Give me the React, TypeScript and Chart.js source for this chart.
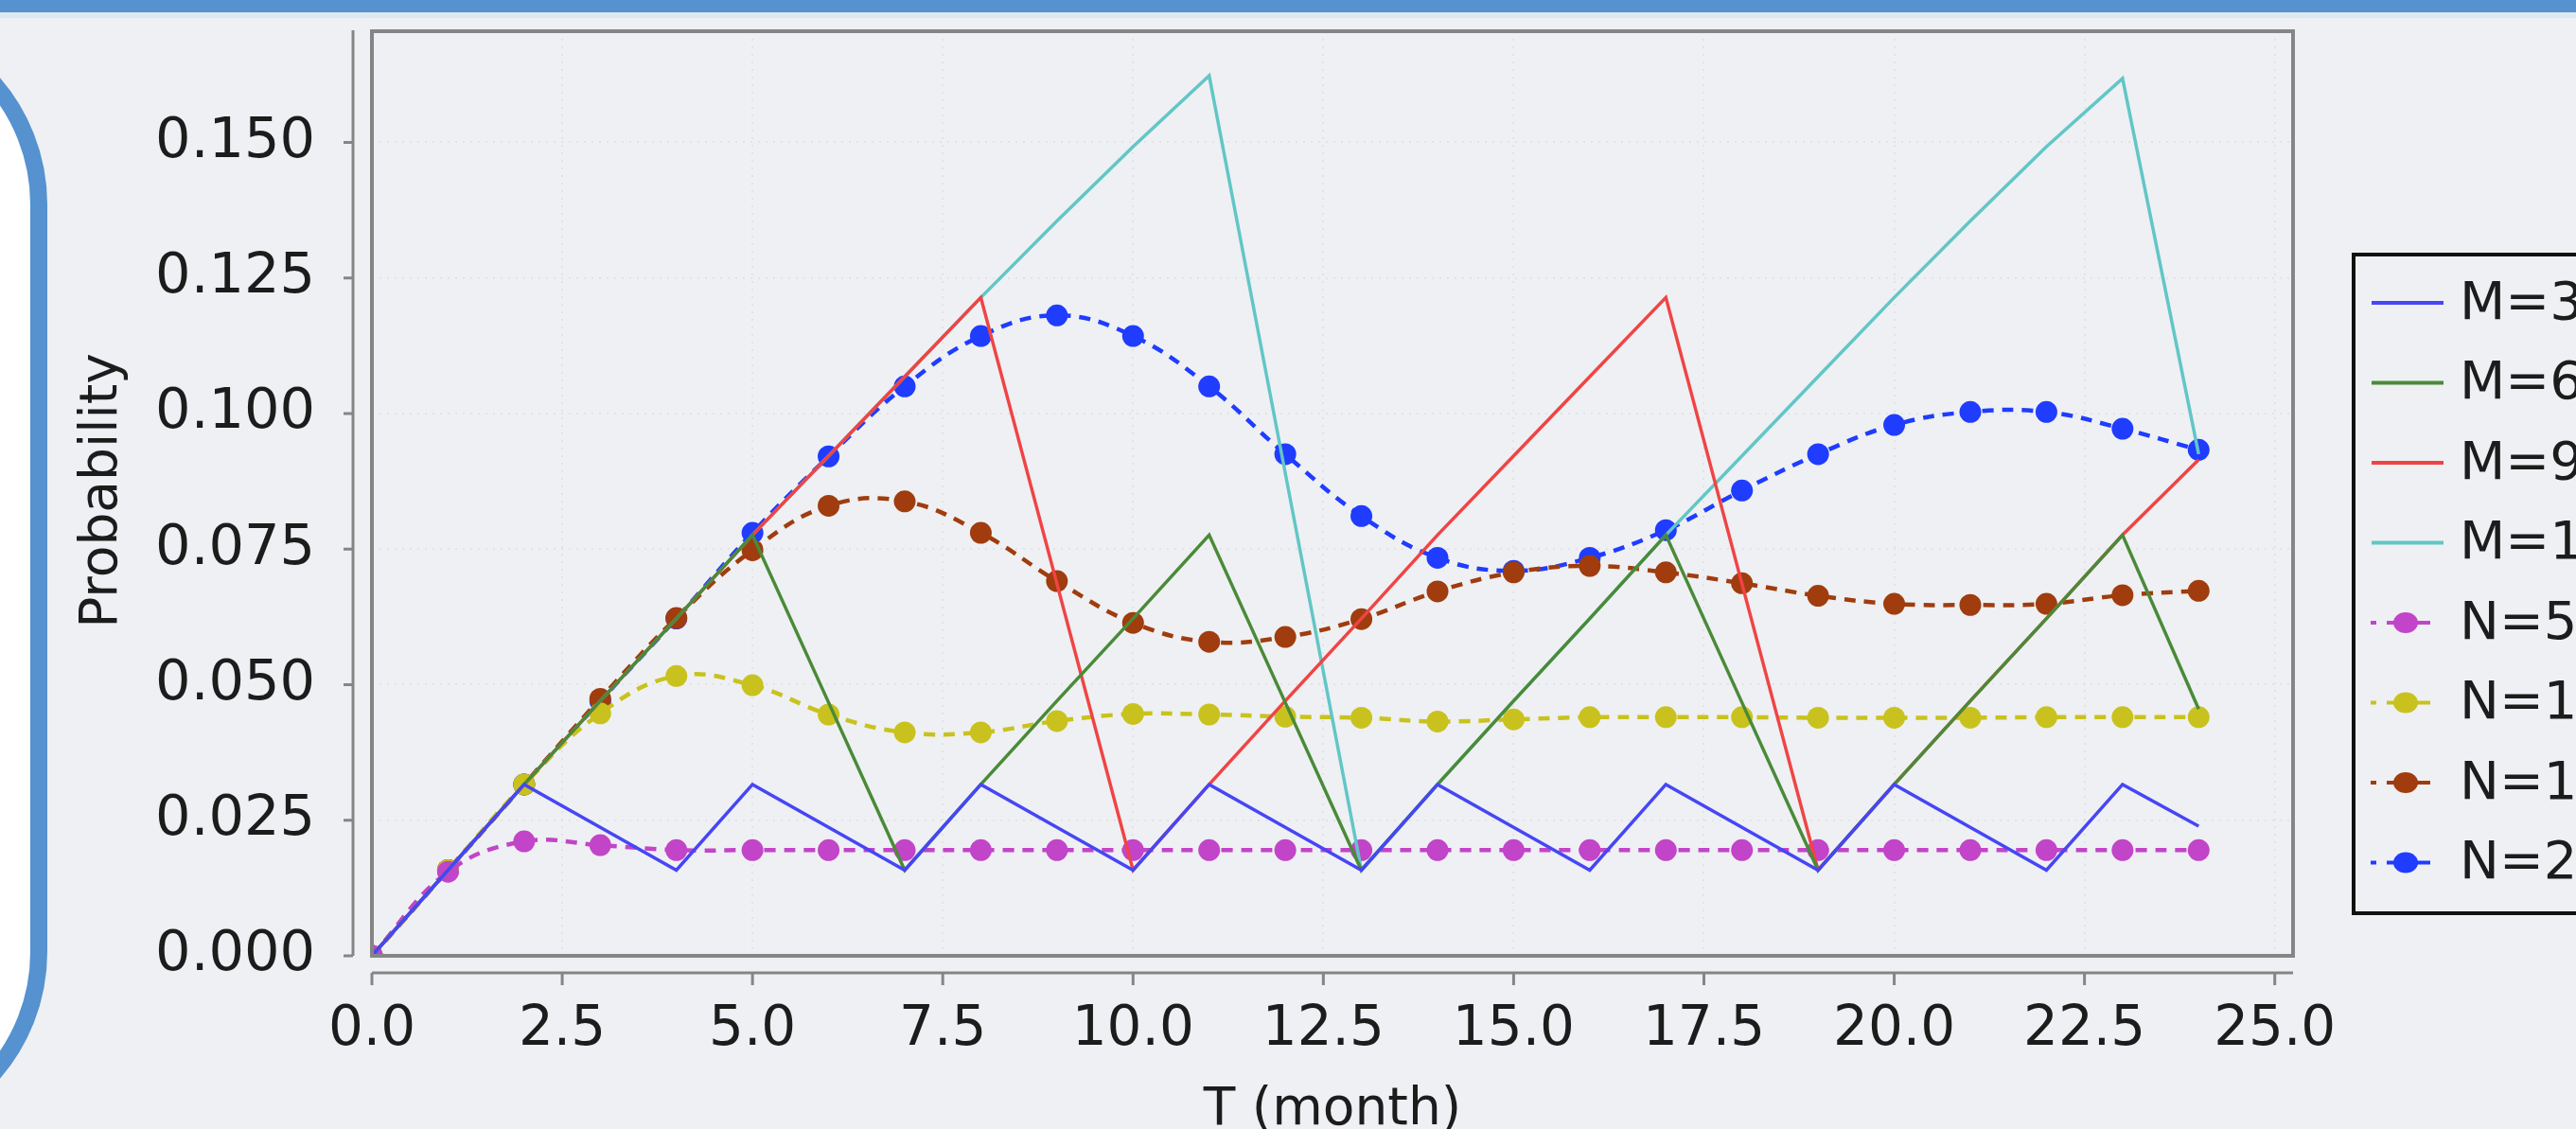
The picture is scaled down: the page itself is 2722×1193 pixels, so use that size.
import React, { useEffect, useRef } from 'react';
import { Chart, registerables } from 'chart.js';

Chart.register(...registerables);

// ---------- data ----------
const months = [0, 1, 2, 3, 4, 5, 6, 7, 8, 9, 10, 11, 12, 13, 14, 15, 16, 17, 18, 19, 20, 21, 22, 23, 24];

const xTickValues = [0, 2.5, 5, 7.5, 10, 12.5, 15, 17.5, 20, 22.5, 25];
const xTickLabels = ['0.0', '2.5', '5.0', '7.5', '10.0', '12.5', '15.0', '17.5', '20.0', '22.5', '25.0'];
const yTickValues = [0, 0.025, 0.05, 0.075, 0.1, 0.125, 0.15];
const yTickLabels = ['0.000', '0.025', '0.050', '0.075', '0.100', '0.125', '0.150'];

const xTitle = 'T (month)';
const yTitle = 'Probability';
const seriesNames = ['M=3', 'M=6', 'M=9', 'M=12', 'N=5', 'N=10', 'N=15', 'N=20'];

const m3 = [0, 0.0158, 0.0316, 0.0237, 0.0158, 0.0316, 0.0237, 0.0158, 0.0316, 0.0237, 0.0158, 0.0316, 0.0237,
  0.0158, 0.0316, 0.0237, 0.0158, 0.0316, 0.0237, 0.0158, 0.0316, 0.0237, 0.0158, 0.0316, 0.0239];
const m6 = [0, 0.0158, 0.0316, 0.047, 0.0622, 0.0776, 0.0467, 0.0158, 0.0316, 0.047, 0.0622, 0.0776, 0.0467,
  0.0158, 0.0316, 0.047, 0.0622, 0.0776, 0.0467, 0.0158, 0.0316, 0.047, 0.0622, 0.0776, 0.0455];
const m9 = [0, 0.0158, 0.0316, 0.047, 0.0622, 0.0776, 0.0922, 0.1068, 0.1214, 0.0686, 0.0158, 0.0316, 0.047,
  0.0622, 0.0776, 0.0922, 0.1068, 0.1214, 0.0686, 0.0158, 0.0316, 0.047, 0.0622, 0.0776, 0.0915];
const m12 = [0, 0.0158, 0.0316, 0.047, 0.0622, 0.0776, 0.0922, 0.1068, 0.1214, 0.1355, 0.1492, 0.1623, 0.089,
  0.0158, 0.0316, 0.047, 0.0622, 0.0776, 0.0922, 0.1068, 0.1214, 0.1355, 0.1492, 0.1618, 0.0925];
const n5 = [0, 0.0155, 0.0211, 0.0204, 0.0195, 0.0195, 0.0195, 0.0195, 0.0195, 0.0195, 0.0195, 0.0195, 0.0195,
  0.0195, 0.0195, 0.0195, 0.0195, 0.0195, 0.0195, 0.0195, 0.0195, 0.0195, 0.0195, 0.0195, 0.0195];
const n10 = [0, 0.0158, 0.0316, 0.0447, 0.0516, 0.0499, 0.0445, 0.0412, 0.0412, 0.0433, 0.0446, 0.0445, 0.0441,
  0.0439, 0.0432, 0.0436, 0.044, 0.044, 0.044, 0.0439, 0.0439, 0.0439, 0.044, 0.044, 0.044];
const n15 = [0, 0.0158, 0.0316, 0.0474, 0.0623, 0.0748, 0.083, 0.0838, 0.078, 0.0691, 0.0614, 0.0579, 0.0588,
  0.0621, 0.0672, 0.0707, 0.0719, 0.0707, 0.0687, 0.0664, 0.0649, 0.0647, 0.0649, 0.0665, 0.0673];
const n20 = [0, 0.0158, 0.0316, 0.047, 0.0622, 0.078, 0.0921, 0.105, 0.1143, 0.1181, 0.1143, 0.105, 0.0925,
  0.0811, 0.0734, 0.071, 0.0734, 0.0785, 0.0858, 0.0925, 0.0979, 0.1003, 0.1003, 0.0972, 0.0933];

const seriesValues = [m3, m6, m9, m12, n5, n10, n15, n20];
const seriesColors = ['#4646f5', '#4a8a38', '#f04444', '#62c6c6', '#c244c8', '#c9c21e', '#a03c0e', '#1f3cff'];
const seriesDashed = [false, false, false, false, true, true, true, true];

// ---------- style ----------
const FONT = '"DejaVu Sans", "Liberation Sans", sans-serif';
const TEXT = '#1c1c1c';
const BG = '#eef0f3';
const FRAME_BLUE = '#5592cf';
const AXIS_GREY = '#858585';

const decorPlugin = {
  id: 'decor',
  beforeDraw(chart: any) {
    const { ctx, width, height } = chart;
    ctx.save();
    ctx.fillStyle = BG;
    ctx.fillRect(0, 0, width, height);
    // top banner
    ctx.fillStyle = '#dde7f2';
    ctx.fillRect(0, 11, width, 8);
    ctx.fillStyle = FRAME_BLUE;
    ctx.fillRect(0, 0, width, 13);
    // left rounded panel
    const x = -400, y = 21, w = 441, h = 1180, r = 195;
    ctx.beginPath();
    ctx.moveTo(x + r, y);
    ctx.lineTo(x + w - r, y);
    ctx.arcTo(x + w, y, x + w, y + r, r);
    ctx.lineTo(x + w, y + h - r);
    ctx.arcTo(x + w, y + h, x + w - r, y + h, r);
    ctx.lineTo(x + r, y + h);
    ctx.lineTo(x, y + h);
    ctx.lineTo(x, y);
    ctx.closePath();
    ctx.fillStyle = '#ffffff';
    ctx.fill();
    ctx.lineWidth = 18;
    ctx.strokeStyle = FRAME_BLUE;
    ctx.stroke();
    ctx.restore();
  },
  afterDatasetsDraw(chart: any) {
    const { ctx, chartArea: a } = chart;
    ctx.save();
    ctx.strokeStyle = AXIS_GREY;
    ctx.lineWidth = 4;
    ctx.strokeRect(a.left, a.top, a.right - a.left, a.bottom - a.top);
    ctx.restore();
  },
  afterDraw(chart: any) {
    const { ctx, chartArea: a, scales } = chart;
    ctx.save();
    // offset axis lines
    ctx.strokeStyle = AXIS_GREY;
    ctx.lineWidth = 3;
    const yAxisX = a.left - 20;
    const xAxisY = a.bottom + 18;
    ctx.beginPath();
    ctx.moveTo(yAxisX, a.top - 1);
    ctx.lineTo(yAxisX, a.bottom);
    ctx.moveTo(a.left, xAxisY);
    ctx.lineTo(a.right, xAxisY);
    yTickValues.forEach((v) => {
      const py = scales.y.getPixelForValue(v);
      ctx.moveTo(yAxisX - 10, py);
      ctx.lineTo(yAxisX, py);
    });
    xTickValues.forEach((v) => {
      const px = scales.x.getPixelForValue(v);
      ctx.moveTo(px, xAxisY);
      ctx.lineTo(px, xAxisY + 13);
    });
    ctx.stroke();

    // axis titles
    ctx.fillStyle = TEXT;
    ctx.font = `55px ${FONT}`;
    ctx.textAlign = 'center';
    ctx.textBaseline = 'alphabetic';
    ctx.fillText(xTitle, (a.left + a.right) / 2, 1188);
    ctx.save();
    ctx.translate(123, (a.top + a.bottom) / 2 - 3);
    ctx.rotate(-Math.PI / 2);
    ctx.fillText(yTitle, 0, 0);
    ctx.restore();

    // legend
    const lx = 2487, ly = 269, lh = 696;
    ctx.strokeStyle = '#111111';
    ctx.lineWidth = 4;
    ctx.strokeRect(lx, ly, 600, lh);
    chart.data.datasets.forEach((ds: any, i: number) => {
      const ry = 320 + i * 84.5;
      ctx.strokeStyle = ds.borderColor;
      ctx.fillStyle = ds.borderColor;
      if (!seriesDashed[i]) {
        ctx.lineWidth = 4;
        ctx.beginPath();
        ctx.moveTo(2506, ry);
        ctx.lineTo(2582, ry);
        ctx.stroke();
      } else {
        ctx.lineWidth = 4;
        ctx.beginPath();
        ctx.moveTo(2505, ry);
        ctx.lineTo(2511, ry);
        ctx.moveTo(2522, ry);
        ctx.lineTo(2568, ry);
        ctx.stroke();
        ctx.beginPath();
        ctx.ellipse(2542, ry, 13, 11, 0, 0, Math.PI * 2);
        ctx.fill();
      }
      ctx.fillStyle = TEXT;
      ctx.font = `56px ${FONT}`;
      ctx.textAlign = 'left';
      ctx.textBaseline = 'middle';
      ctx.fillText(seriesNames[i], 2599, ry + 2);
    });
    ctx.restore();
  },
};

export default function App() {
  const ref = useRef<HTMLCanvasElement | null>(null);

  useEffect(() => {
    document.body.style.margin = '0';
    document.body.style.overflow = 'hidden';
    const datasets = seriesNames.map((name, i) => {
      const dashed = seriesDashed[i];
      return {
        label: name,
        data: months.map((t, k) => ({ x: t, y: seriesValues[i][k] })),
        borderColor: seriesColors[i],
        backgroundColor: seriesColors[i],
        borderWidth: dashed ? 4.5 : 3.5,
        borderDash: dashed ? [12, 9] : [],
        pointRadius: dashed ? 11.5 : 0,
        pointBackgroundColor: seriesColors[i],
        pointBorderColor: seriesColors[i],
        pointBorderWidth: 0,
        tension: dashed ? 0.4 : 0,
        fill: false,
      };
    });

    const chart = new Chart(ref.current as HTMLCanvasElement, {
      type: 'line',
      data: { datasets },
      options: {
        responsive: false,
        animation: false,
        devicePixelRatio: 1,
        events: [],
        layout: { padding: { left: 0, top: 33, right: 299, bottom: 0 } },
        plugins: { legend: { display: false }, tooltip: { enabled: false } },
        scales: {
          x: {
            type: 'linear',
            min: 0,
            max: 25.24,
            afterBuildTicks: (s: any) => {
              s.ticks = xTickValues.map((v) => ({ value: v }));
            },
            afterFit: (s: any) => {
              s.height = 183;
              s.paddingLeft = 0;
              s.paddingRight = 0;
            },
            ticks: {
              autoSkip: false,
              maxRotation: 0,
              padding: 44,
              color: TEXT,
              font: { family: FONT, size: 58 },
              callback: (_v: any, idx: number) => xTickLabels[idx],
            },
            grid: { color: '#e1e3e7', lineWidth: 2, drawTicks: false },
            border: { display: false, dash: [2, 6] },
          },
          y: {
            type: 'linear',
            min: 0,
            max: 0.1705,
            afterBuildTicks: (s: any) => {
              s.ticks = yTickValues.map((v) => ({ value: v }));
            },
            afterFit: (s: any) => {
              s.width = 393;
              s.paddingTop = 0;
              s.paddingBottom = 0;
            },
            ticks: {
              padding: 60,
              color: TEXT,
              font: { family: FONT, size: 59 },
              callback: (_v: any, idx: number) => yTickLabels[idx],
            },
            grid: { color: '#e1e3e7', lineWidth: 2, drawTicks: false },
            border: { display: false, dash: [2, 6] },
          },
        },
      },
      plugins: [decorPlugin],
    } as any);

    return () => chart.destroy();
  }, []);

  return (
    <div style={{ position: 'absolute', left: 0, top: 0, width: 2722, height: 1193, overflow: 'hidden' }}>
      <canvas ref={ref} width={2722} height={1193} style={{ display: 'block', width: 2722, height: 1193 }} />
    </div>
  );
}
